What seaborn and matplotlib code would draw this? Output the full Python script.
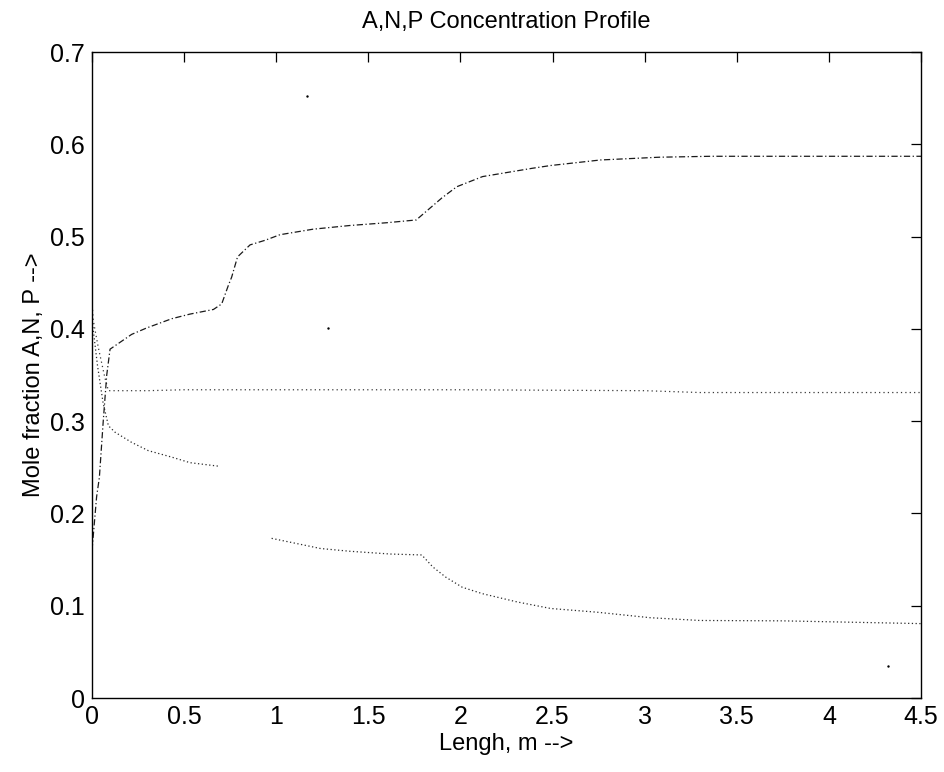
import numpy as np
import pandas as pd
import matplotlib
matplotlib.use("Agg")
import matplotlib.pyplot as plt
import seaborn as sns

# ---- data ----
x_A = [0.0, 0.007, 0.034, 0.07, 0.089, 0.3, 0.5, 1.0, 2.0, 3.0, 3.3, 4.5]
y_A = [0.43, 0.409, 0.38, 0.347, 0.333, 0.333, 0.334, 0.334, 0.334, 0.333, 0.331, 0.331]

x_P = [0.0, 0.025, 0.04, 0.061, 0.08, 0.098, 0.215, 0.297, 0.433, 0.532, 0.659, 0.704,
       0.74, 0.758, 0.79, 0.858, 0.94, 1.02, 1.2, 1.4, 1.6, 1.76, 1.90, 1.98, 2.12,
       2.39, 2.49, 2.76, 3.08, 3.36, 4.5]
y_P = [0.16, 0.218, 0.239, 0.30, 0.35, 0.378, 0.394, 0.401, 0.411, 0.416, 0.421, 0.427,
       0.447, 0.456, 0.478, 0.491, 0.496, 0.502, 0.508, 0.512, 0.515, 0.518, 0.542, 0.554, 0.565,
       0.574, 0.577, 0.583, 0.586, 0.587, 0.587]

x_N = [0.0, 0.03, 0.06, 0.089, 0.125, 0.215, 0.306, 0.433, 0.532, 0.695,
       0.975, 1.12, 1.24, 1.40, 1.62, 1.79, 1.85, 1.92, 2.01, 2.12, 2.31, 2.49, 2.74,
       3.03, 3.30, 3.75, 4.5]
y_N = [0.41, 0.36, 0.32, 0.295, 0.288, 0.277, 0.268, 0.261, 0.255, 0.251,
       0.173, 0.167, 0.162, 0.159, 0.156, 0.155, 0.142, 0.131, 0.120, 0.113, 0.104, 0.097, 0.093,
       0.087, 0.084, 0.0836, 0.0806]
seg_N = [0] * 10 + [1] * 17

# stray specks in the scanned figure
x_specks = [1.165, 1.28, 4.32]
y_specks = [0.652, 0.401, 0.035]

x_ticks = [0, 0.5, 1, 1.5, 2, 2.5, 3, 3.5, 4, 4.5]
x_ticklabels = ["0", "0.5", "1", "1.5", "2", "2.5", "3", "3.5", "4", "4.5"]
y_ticks = [0, 0.1, 0.2, 0.3, 0.4, 0.5, 0.6, 0.7]
y_ticklabels = ["0", "0.1", "0.2", "0.3", "0.4", "0.5", "0.6", "0.7"]

# ---- build table ----
df = pd.concat([
    pd.DataFrame({"x": x_A, "y": y_A, "series": "A", "seg": 0}),
    pd.DataFrame({"x": x_P, "y": y_P, "series": "P", "seg": 0}),
    pd.DataFrame({"x": x_N, "y": y_N, "series": "N", "seg": seg_N}),
], ignore_index=True)
df["unit"] = df["series"] + df["seg"].astype(str)

sns.set_style("white")
plt.rcParams["font.family"] = ["Liberation Sans", "DejaVu Sans"]
plt.rcParams["text.color"] = "black"
plt.rcParams["axes.labelcolor"] = "black"

fig = plt.figure(figsize=(9.44, 7.72), dpi=100)
ax = fig.add_axes([92 / 944, 1 - 698 / 772, (921 - 92) / 944, (698 - 52) / 772])

sns.lineplot(data=df, x="x", y="y", hue="series", style="series", units="unit",
             estimator=None, sort=False, ax=ax,
             palette={"A": "#3a3a3a", "P": "#1a1a1a", "N": "#2a2a2a"},
             dashes={"A": (1, 2.5), "P": (5, 2, 1, 2), "N": (1, 2)},
             linewidth=0.9, legend=False)

sns.scatterplot(x=x_specks, y=y_specks, ax=ax, color="black", s=3, linewidth=0)

ax.set_xlim(0, 4.5)
ax.set_ylim(0, 0.7)
ax.set_xticks(x_ticks)
ax.set_xticklabels(x_ticklabels)
ax.set_yticks(y_ticks)
ax.set_yticklabels(y_ticklabels)
ax.tick_params(direction="in", top=True, right=True, length=7, width=0.9,
               labelsize=18, colors="black", pad=5)
for s in ax.spines.values():
    s.set_visible(True)
    s.set_color("black")
    s.set_linewidth(1.0)

ax.set_title("A,N,P Concentration Profile", fontsize=17, pad=17, color="black")
ax.set_xlabel("Lengh, m -->", fontsize=17, labelpad=3, color="black")
ax.set_ylabel("Mole fraction A,N, P -->", fontsize=17, labelpad=4, color="black")

fig.savefig("out.png", dpi=100)
